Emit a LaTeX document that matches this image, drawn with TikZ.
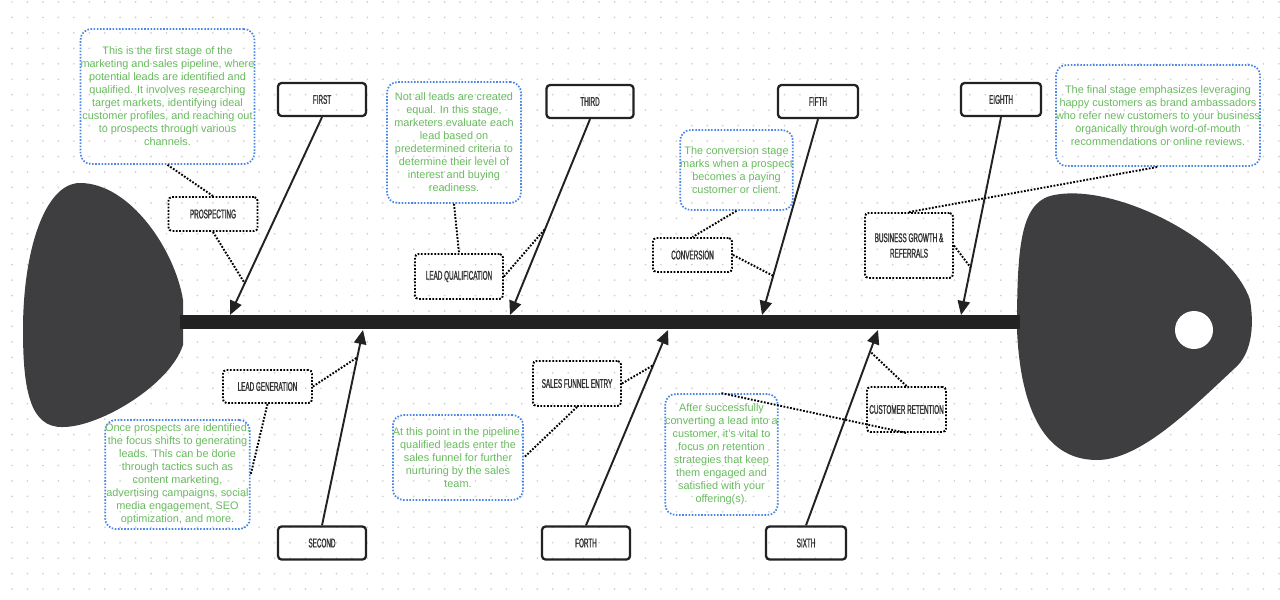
\documentclass[tikz,border=0pt]{standalone}
\usepackage{fontspec}
\setmainfont{Liberation Sans}
\newfontfamily\stagefont[FakeStretch=0.5,FakeBold=1.2]{Liberation Sans}
\usetikzlibrary{arrows.meta}
\definecolor{BoneBlack}{RGB}{34,34,34}
\definecolor{FishGray}{RGB}{62,62,64}
\definecolor{LabelGray}{RGB}{51,51,51}
\definecolor{NoteGreen}{RGB}{104,186,94}
\definecolor{NoteBlue}{RGB}{74,134,232}
\definecolor{GridDot}{RGB}{208,208,208}

\begin{document}
\begin{tikzpicture}[x=0.02cm, y=-0.02cm,
    stage/.style={draw=BoneBlack, line width=1.3pt, rounded corners=2pt, text=LabelGray,
      font=\stagefont\fontsize{7.2}{7.6}\selectfont, minimum height=0.66cm, inner sep=0pt},
    cause/.style={draw=black, line width=1.1pt, dash pattern=on 1pt off 0.9pt, rounded corners=2pt,
      text=LabelGray, font=\stagefont\fontsize{7.2}{8.8}\selectfont, align=center, inner sep=0pt},
    note/.style={draw=NoteBlue, line width=1pt, dash pattern=on 0.9pt off 0.9pt, rounded corners=6pt,
      text=NoteGreen, font=\fontsize{6.2}{7.4}\selectfont, align=center, inner sep=0pt},
    bone/.style={draw=BoneBlack, line width=1.1pt, -{Triangle[length=8pt,width=7pt]}},
    link/.style={draw=black, line width=1.1pt, dash pattern=on 1pt off 0.9pt}]

    \useasboundingbox (0,0) rectangle (1280,599);

    % Dotted canvas
    \foreach \i in {0,...,82}
      \foreach \j in {0,...,38}
        \fill[GridDot] (12+15.45*\i, 2+15.45*\j) circle (0.55pt);

    % Tail and head
    \fill[FishGray] (80,183) .. controls (130,183) and (175,250) .. (183,300)
      -- (183,345) .. controls (170,385) and (100,427) .. (63,427)
      .. controls (30,428) and (23,390) .. (23,330)
      .. controls (23,250) and (45,183) .. (80,183) -- cycle;
    \fill[FishGray] (1017,330) .. controls (1017,250) and (1020,205) .. (1050,196)
      .. controls (1110,180) and (1230,240) .. (1250,300)
      .. controls (1255,330) and (1250,355) .. (1235,368)
      .. controls (1190,410) and (1140,460) .. (1097,460)
      .. controls (1040,460) and (1020,400) .. (1017,330) -- cycle;
    \fill[white] (1194,330) circle (19);

    % Spine
    \coordinate (tailjoint) at (180,322);
    \coordinate (headjoint) at (1020,322);
    \draw[BoneBlack, line width=8.5pt] (tailjoint) -- (headjoint);

    % Stages
    \node[stage, minimum width=1.76cm] (first) at (322,99.5) {FIRST};
    \node[stage, minimum width=1.74cm] (third) at (590,101.5) {THIRD};
    \node[stage, minimum width=1.6cm] (fifth) at (818,101.5) {FIFTH};
    \node[stage, minimum width=1.6cm] (eighth) at (1001,99.5) {EIGHTH};
    \node[stage, minimum width=1.76cm] (second) at (322,543) {SECOND};
    \node[stage, minimum width=1.76cm] (forth) at (586,543) {FORTH};
    \node[stage, minimum width=1.6cm] (sixth) at (806,543) {SIXTH};

    % Bones
    \coordinate (firsttip) at (230,315);
    \coordinate (thirdtip) at (510,315);
    \coordinate (fifthtip) at (762,315);
    \coordinate (eighthtip) at (961,315);
    \coordinate (secondtip) at (363,330);
    \coordinate (forthtip) at (668,330);
    \coordinate (sixthtip) at (878,330);
    \draw[bone] (first.south) -- coordinate[pos=0.84] (firstmid) (firsttip);
    \draw[bone] (third.south) -- coordinate[pos=0.56] (thirdmid) (thirdtip);
    \draw[bone] (fifth.south) -- coordinate[pos=0.80] (fifthmid) (fifthtip);
    \draw[bone] (eighth.south) -- coordinate[pos=0.76] (eighthmid) (eighthtip);
    \draw[bone] (second.north) -- coordinate[pos=0.86] (secondmid) (secondtip);
    \draw[bone] (forth.north) -- coordinate[pos=0.82] (forthmid) (forthtip);
    \draw[bone] (sixth.north) -- coordinate[pos=0.89] (sixthmid) (sixthtip);

    % Causes
    \node[cause, minimum width=1.78cm, minimum height=0.68cm] (prospecting) at (213,214) {PROSPECTING};
    \node[cause, minimum width=1.76cm, minimum height=0.9cm] (leadqual) at (459,276.5) {LEAD QUALIFICATION};
    \node[cause, minimum width=1.58cm, minimum height=0.68cm] (conversion) at (692.5,255) {CONVERSION};
    \node[cause, minimum width=1.76cm, minimum height=1.3cm] (growth) at (909,245.5) {BUSINESS GROWTH \&\\REFERRALS};
    \node[cause, minimum width=1.78cm, minimum height=0.66cm] (leadgen) at (267.5,386.5) {LEAD GENERATION};
    \node[cause, minimum width=1.76cm, minimum height=0.9cm] (funnel) at (577,383.5) {SALES FUNNEL ENTRY};
    \node[cause, minimum width=1.58cm, minimum height=0.9cm] (retention) at (906.5,409.5) {CUSTOMER RETENTION};

    % Notes
    \node[note, minimum width=3.42cm, minimum height=2.7cm] (prospectingnote) at (167.5,96.5)
      {This is the first stage of the\\marketing and sales pipeline, where\\potential leads are identified and\\qualified. It involves researching\\target markets, identifying ideal\\customer profiles, and reaching out\\to prospects through various\\channels.};
    \node[note, minimum width=2.68cm, minimum height=2.42cm] (qualnote) at (454,142.5)
      {Not all leads are created\\equal. In this stage,\\marketers evaluate each\\lead based on\\predetermined criteria to\\determine their level of\\interest and buying\\readiness.};
    \node[note, minimum width=2.22cm, minimum height=1.6cm] (convnote) at (736.5,170)
      {The conversion stage\\marks when a prospect\\becomes a paying\\customer or client.};
    \node[note, minimum width=4cm, minimum height=2.02cm] (finalnote) at (1158,115.5)
      {The final stage emphasizes leveraging\\happy customers as brand ambassadors\\who refer new customers to your business\\organically through word-of-mouth\\recommendations or online reviews.};
    \node[note, minimum width=2.82cm, minimum height=2.18cm] (leadgennote) at (177.5,474.5)
      {Once prospects are identified,\\the focus shifts to generating\\leads. This can be done\\through tactics such as\\content marketing,\\advertising campaigns, social\\media engagement, SEO\\optimization, and more.};
    \node[note, minimum width=2.6cm, minimum height=1.7cm] (funnelnote) at (458,457.5)
      {At this point in the pipeline,\\qualified leads enter the\\sales funnel for further\\nurturing by the sales\\team.};
    \node[note, minimum width=2.22cm, minimum height=2.42cm] (retentionnote) at (721.5,454.5)
      {After successfully\\converting a lead into a\\customer, it's vital to\\focus on retention\\strategies that keep\\them engaged and\\satisfied with your\\offering(s).};

    % Dotted links
    \draw[link] (prospectingnote.south) -- (prospecting.north);
    \draw[link] (prospecting.south) -- (firstmid);
    \draw[link] (qualnote.south) -- (leadqual.north);
    \draw[link] (leadqual.east) -- (thirdmid);
    \draw[link] (convnote.south) -- (conversion.north);
    \draw[link] (conversion.east) -- (fifthmid);
    \draw[link] (growth.north) -- (finalnote.south);
    \draw[link] (growth.east) -- (eighthmid);
    \draw[link] (leadgen.east) -- (secondmid);
    \draw[link] (leadgen.south) -- (leadgennote.east);
    \draw[link] (funnel.east) -- (forthmid);
    \draw[link] (funnel.south) -- (funnelnote.east);
    \draw[link] (retention.north) -- (sixthmid);
    \draw[link] (retentionnote.north) -- (retention.south);
\end{tikzpicture}
\end{document}
